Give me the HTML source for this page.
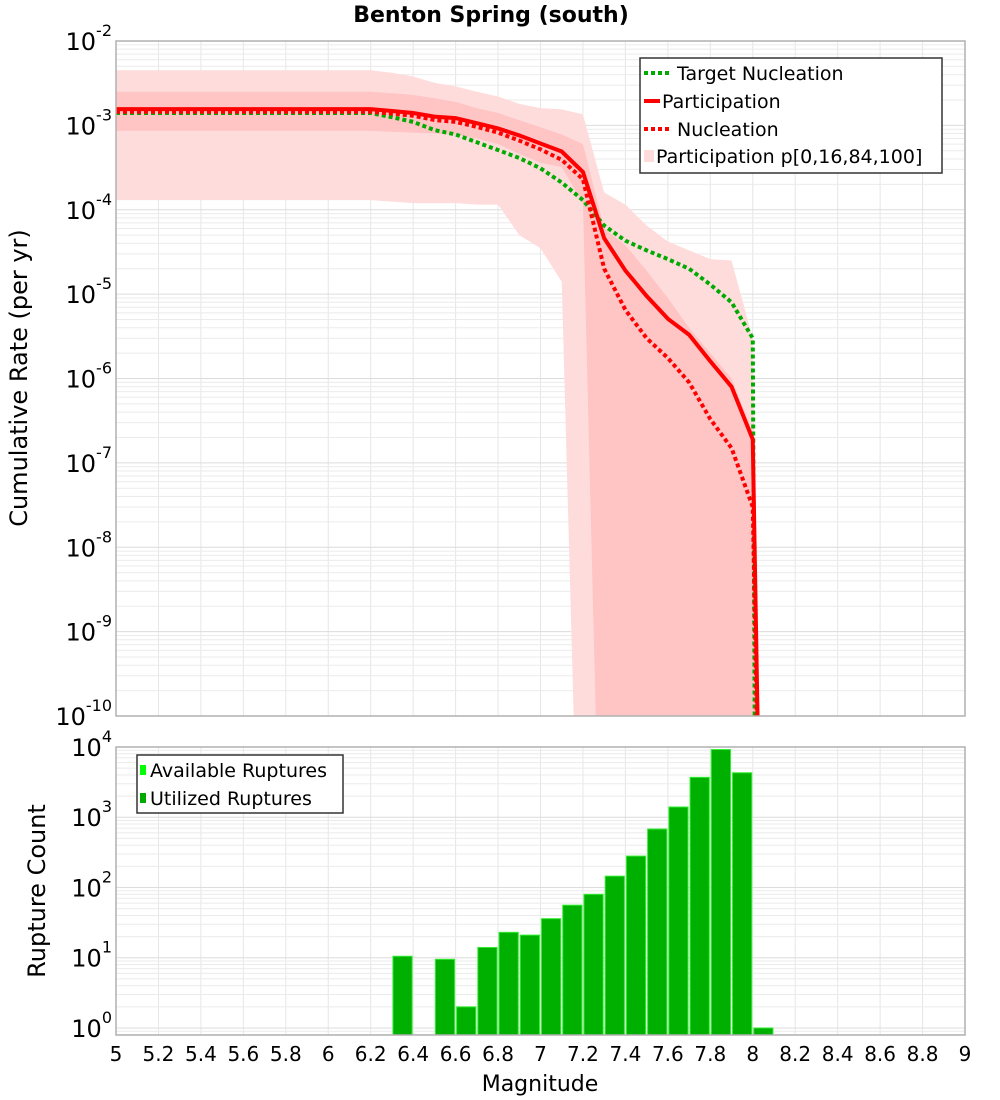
<!DOCTYPE html>
<html><head><meta charset="utf-8"><style>
html,body{margin:0;width:1000px;height:1100px;overflow:hidden;background:#fff;font-family:"Liberation Sans","DejaVu Sans",sans-serif}
svg{display:block}
</style></head><body>
<svg id="c" width="1000" height="1100" xmlns="http://www.w3.org/2000/svg" font-family="DejaVu Sans, Liberation Sans, sans-serif" style="position:absolute;left:0;top:0"></svg>
<script>
const mags=[5,5.1,5.2,5.3,5.4,5.5,5.6,5.7,5.8,5.9,6,6.1,6.2,6.3,6.4,6.5,6.6,6.7,6.8,6.9,7,7.1,7.2,7.3,7.4,7.5,7.6,7.7,7.8,7.9,8,8.05];
const partic=[1.56e-3,1.56e-3,1.56e-3,1.56e-3,1.56e-3,1.56e-3,1.56e-3,1.56e-3,1.56e-3,1.56e-3,1.56e-3,1.56e-3,1.56e-3,1.48e-3,1.4e-3,1.27e-3,1.22e-3,1.06e-3,9.2e-4,7.6e-4,6.1e-4,4.9e-4,2.8e-4,4.6e-5,1.9e-5,9.5e-6,5.1e-6,3.3e-6,1.6e-6,8e-7,1.9e-7,1e-14];
const nucl=[1.45e-3,1.45e-3,1.45e-3,1.45e-3,1.45e-3,1.45e-3,1.45e-3,1.45e-3,1.45e-3,1.45e-3,1.45e-3,1.45e-3,1.45e-3,1.38e-3,1.3e-3,1.16e-3,1.1e-3,9.6e-4,8.2e-4,6.6e-4,5.2e-4,3.9e-4,2.3e-4,2e-5,6.5e-6,3e-6,1.75e-6,9e-7,3.3e-7,1.5e-7,3e-8,1e-14];
const target=[1.4e-3,1.4e-3,1.4e-3,1.4e-3,1.4e-3,1.4e-3,1.4e-3,1.4e-3,1.4e-3,1.4e-3,1.4e-3,1.4e-3,1.4e-3,1.25e-3,1.1e-3,8.8e-4,7.8e-4,6.3e-4,5.1e-4,4.1e-4,3.1e-4,2.1e-4,1.3e-4,6.5e-5,4.3e-5,3.3e-5,2.6e-5,2e-5,1.3e-5,8e-6,3e-6,1e-30];
const outerTop=[4.5e-3,4.5e-3,4.5e-3,4.5e-3,4.5e-3,4.5e-3,4.5e-3,4.5e-3,4.5e-3,4.5e-3,4.5e-3,4.5e-3,4.5e-3,4.2e-3,3.8e-3,3.2e-3,2.9e-3,2.5e-3,2.2e-3,1.8e-3,1.6e-3,1.55e-3,1.35e-3,1.6e-4,1.15e-4,6.5e-5,4.2e-5,3.3e-5,2.6e-5,2.5e-5,3e-6,1e-14];
const outerBot=[1.3e-4,1.3e-4,1.3e-4,1.3e-4,1.3e-4,1.3e-4,1.3e-4,1.3e-4,1.3e-4,1.3e-4,1.3e-4,1.3e-4,1.3e-4,1.25e-4,1.2e-4,1.2e-4,1.2e-4,1.15e-4,1.15e-4,5e-5,3.5e-5,1.4e-5,1e-14,1e-14,1e-14,1e-14,1e-14,1e-14,1e-14,1e-14,1e-14,1e-14];
const innerTop=[2.5e-3,2.5e-3,2.5e-3,2.5e-3,2.5e-3,2.5e-3,2.5e-3,2.5e-3,2.5e-3,2.5e-3,2.5e-3,2.5e-3,2.5e-3,2.4e-3,2.3e-3,2.1e-3,1.9e-3,1.6e-3,1.4e-3,1.15e-3,9.5e-4,7.8e-4,6e-4,6e-5,3.8e-5,1.9e-5,9e-6,4e-6,2e-6,1e-6,2.3e-7,1e-14];
const innerBot=[8.6e-4,8.6e-4,8.6e-4,8.6e-4,8.6e-4,8.6e-4,8.6e-4,8.6e-4,8.6e-4,8.6e-4,8.6e-4,8.6e-4,8.6e-4,8.4e-4,8.2e-4,8e-4,7.8e-4,7e-4,6e-4,4.6e-4,3.6e-4,3.2e-4,1.2e-4,1e-14,1e-14,1e-14,1e-14,1e-14,1e-14,1e-14,1e-14,1e-14];
const barMags=[6.35,6.55,6.65,6.75,6.85,6.95,7.05,7.15,7.25,7.35,7.45,7.55,7.65,7.75,7.85,7.95,8.05];
const barCounts=[10.5,9.5,2,14,23,21,36,56,80,145,280,680,1400,3700,9200,4300,1];
const xTicks=[5,5.2,5.4,5.6,5.8,6,6.2,6.4,6.6,6.8,7,7.2,7.4,7.6,7.8,8,8.2,8.4,8.6,8.8,9];
const topExp=[-2,-3,-4,-5,-6,-7,-8,-9,-10];
const botExp=[4,3,2,1,0];

const NS="http://www.w3.org/2000/svg";
const svg=document.getElementById('c');
function mk(tag,attrs,parent){const e=document.createElementNS(NS,tag);for(const k in attrs)e.setAttribute(k,attrs[k]);(parent||svg).appendChild(e);return e;}
const L=116,R=965,T1=41,B1=716,T2=747,B2=1035;
const xs=m=>L+(m-5)*(R-L)/4;
const y1=v=>T1+(-2-Math.log10(v))*(B1-T1)/8;
const y2=v=>B2-(Math.log10(v)+0.1)*(B2-T2)/4.1;

const defs=mk('defs',{});
const cp1=mk('clipPath',{id:'cp1'},defs);mk('rect',{x:L,y:T1,width:R-L,height:B1-T1},cp1);
const cp2=mk('clipPath',{id:'cp2'},defs);mk('rect',{x:L,y:T2,width:R-L,height:B2-T2},cp2);

function grid(T,B,yf,lo,hi,name){
  const g=mk('g',{'stroke':'#e6e6e6','stroke-width':1});
  
  
  for(let m=5;m<=9.001;m+=0.2){const x=xs(m);mk('line',{x1:x,x2:x,y1:T,y2:B},g);}
  for(let d=lo;d<=hi;d++)for(let k=1;k<10;k++){const y=yf(k*Math.pow(10,d));if(y>=T-0.5&&y<=B+0.5)mk('line',{x1:L,x2:R,y1:y,y2:y,'stroke':k==1?'#dcdcdc':'#ebebeb'},g);}
}
grid(T1,B1,y1,-10,-2,'top-grid');
grid(T2,B2,y2,-1,4,'bottom-grid');

function band(top,bot,fill,name){
  let d='M'+mags.map((m,i)=>xs(m)+','+y1(top[i])).join('L');
  for(let i=mags.length-1;i>=0;i--)d+='L'+xs(mags[i])+','+y1(bot[i]);
  const p=mk('path',{d:d+'Z',fill:fill,'clip-path':'url(#cp1)'});
  
  
}
band(outerTop,outerBot,'#ffdcdc','participation-band-p0-100');
band(innerTop,innerBot,'#ffc4c4','participation-band-p16-84');
function line(vals,color,dash,name){
  const p=mk('polyline',{points:mags.map((m,i)=>xs(m)+','+y1(vals[i])).join(' '),fill:'none',stroke:color,'stroke-width':4,'clip-path':'url(#cp1)'});
  if(dash)p.setAttribute('stroke-dasharray',dash);
  
  
}
line(target,'#00aa00','4,3','target-nucleation-line');
line(nucl,'#ff0000','4,3','nucleation-line');
line(partic,'#ff0000',null,'participation-line');

const bw=(R-L)/40;
barMags.forEach((m,i)=>{
  const y=y2(barCounts[i]);
  const r=mk('rect',{x:xs(m)-bw/2+1,y:y,width:bw-2,height:B2-y,fill:'#00b000',stroke:'#33ee33','stroke-width':1,'clip-path':'url(#cp2)'});
  
  
});

mk('rect',{x:L,y:T1,width:R-L,height:B1-T1,fill:'none',stroke:'#b0b0b0','stroke-width':1.5});
mk('rect',{x:L,y:T2,width:R-L,height:B2-T2,fill:'none',stroke:'#b0b0b0','stroke-width':1.5});

function ylab(exp,y,name){
  const t=mk('text',{x:L-4,y:y+9,'text-anchor':'end','font-size':24,fill:'#000'});
  
  
  t.appendChild(document.createTextNode('10'));
  const s=mk('tspan',{dy:-14,'font-size':16},t);s.textContent=String(exp);
}
topExp.forEach(e=>ylab(e,y1(Math.pow(10,e)),'y-tick-label-top'));
botExp.forEach(e=>ylab(e,y2(Math.pow(10,e)),'y-tick-label-bottom'));
xTicks.forEach(m=>{
  const t=mk('text',{x:xs(m),y:1061,'text-anchor':'middle','font-size':20,fill:'#000'});
  t.textContent=String(m);
  
  
});
</script>
<svg style="position:absolute;left:0;top:0" width="1000" height="1100" xmlns="http://www.w3.org/2000/svg" font-family="DejaVu Sans, Liberation Sans, sans-serif">
<text x="491" y="22" text-anchor="middle" font-size="22" font-weight="bold">Benton Spring (south)</text>
<text transform="translate(27,378) rotate(-90)" text-anchor="middle" font-size="24">Cumulative Rate (per yr)</text>
<text transform="translate(45,891) rotate(-90)" text-anchor="middle" font-size="24">Rupture Count</text>
<text x="540" y="1091" text-anchor="middle" font-size="22">Magnitude</text>
<g>
<rect x="640" y="58" width="302" height="115" fill="#fff" stroke="#333" stroke-width="1.5"/>
<line x1="644" x2="672" y1="73" y2="73" stroke="#00aa00" stroke-width="4" stroke-dasharray="4,3"/>
<text x="677" y="80" font-size="19">Target Nucleation</text>
<line x1="644" x2="660" y1="101" y2="101" stroke="#ff0000" stroke-width="4"/>
<text x="662" y="108" font-size="19">Participation</text>
<line x1="644" x2="672" y1="129" y2="129" stroke="#ff0000" stroke-width="4" stroke-dasharray="4,3"/>
<text x="677" y="136" font-size="19">Nucleation</text>
<rect x="644" y="150" width="10" height="12" fill="#ffdcdc"/>
<text x="656" y="163" font-size="19">Participation p[0,16,84,100]</text>
</g>
<g>
<rect x="137" y="755" width="206" height="58" fill="#fff" stroke="#333" stroke-width="1.5"/>
<rect x="140" y="765" width="6" height="10" fill="#00ff00"/>
<text x="150" y="777" font-size="19">Available Ruptures</text>
<rect x="140" y="793" width="6" height="10" fill="#00aa00"/>
<text x="150" y="805" font-size="19">Utilized Ruptures</text>
</g>
</svg>
</body></html>
